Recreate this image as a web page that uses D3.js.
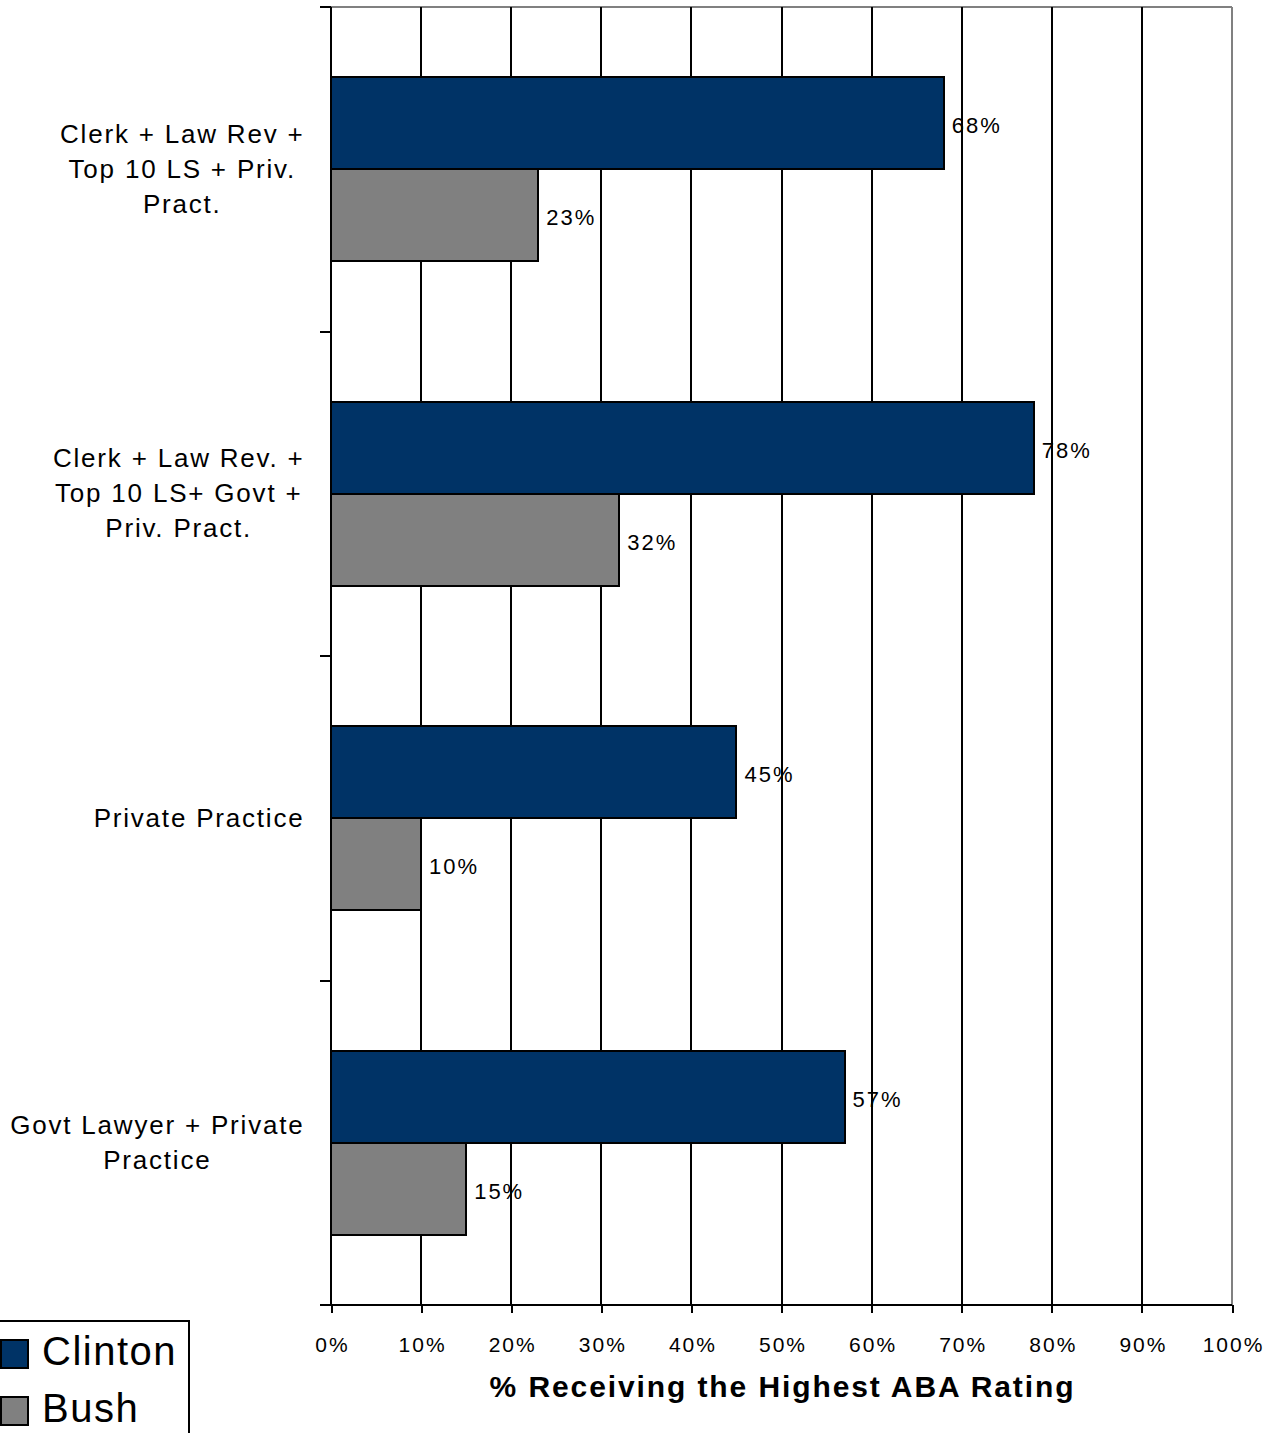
<!DOCTYPE html>
<html>
<head>
<meta charset="utf-8">
<script src="https://cdn.jsdelivr.net/npm/d3@7"></script>
<style>
  body { margin: 0; background: #fff; }
  svg { display: block; }
  text { font-family: "Liberation Sans", Arial, Helvetica, sans-serif; fill: #000; }
</style>
</head>
<body>
<svg id="chart" width="1278" height="1433"></svg>
<script>
// Career-profile groups (lines of each label split with "\n")
const categories = [
  "Clerk + Law Rev +\nTop 10 LS + Priv.\nPract.",
  "Clerk + Law Rev. +\nTop 10 LS+ Govt +\nPriv. Pract.",
  "Private Practice",
  "Govt Lawyer + Private\nPractice"
];
const seriesNames = ["Clinton", "Bush"];
const seriesColors = ["#003366", "#808080"];
const clintonValues = [68, 78, 45, 57];
const bushValues = [23, 32, 10, 15];
const xTickValues = [0, 10, 20, 30, 40, 50, 60, 70, 80, 90, 100];
const xAxisTitle = "% Receiving the Highest ABA Rating";

const seriesValues = [clintonValues, bushValues];
const rows = categories.map((c, i) => ({
  cat: i,
  label: c,
  values: seriesNames.map((s, k) => ({ series: s, color: seriesColors[k], value: seriesValues[k][i] }))
}));

const svg = d3.select("#chart");
svg.append("rect").attr("width", 1278).attr("height", 1433).attr("fill", "#fff");

const plotLeft = 331, plotRight = 1232, plotTop = 7, plotBottom = 1305;

const x = d3.scaleLinear().domain([0, 100]).range([plotLeft, plotRight]);
const y = d3.scaleBand().domain(d3.range(categories.length)).range([plotTop, plotBottom]);
const ySub = d3.scaleBand().domain(seriesNames).range([0, y.bandwidth()])
  .paddingInner(0).paddingOuter(0.764);

// plot frame: grey top and right border
svg.append("line").attr("x1", plotLeft).attr("x2", plotRight).attr("y1", plotTop).attr("y2", plotTop)
  .attr("stroke", "#808080").attr("stroke-width", 2).attr("shape-rendering", "crispEdges");
svg.append("line").attr("x1", plotRight).attr("x2", plotRight).attr("y1", plotTop).attr("y2", plotBottom)
  .attr("stroke", "#808080").attr("stroke-width", 2).attr("shape-rendering", "crispEdges");

// vertical gridlines
svg.append("g").selectAll("line")
  .data(xTickValues.filter(d => d > 0 && d < 100))
  .join("line")
  .attr("x1", d => Math.round(x(d))).attr("x2", d => Math.round(x(d)))
  .attr("y1", plotTop).attr("y2", plotBottom)
  .attr("stroke", "#000").attr("stroke-width", 2).attr("shape-rendering", "crispEdges");

// bars
const groups = svg.append("g").selectAll("g")
  .data(rows).join("g")
  .attr("transform", d => `translate(0,${y(d.cat)})`);

groups.selectAll("rect")
  .data(d => d.values).join("rect")
  .attr("x", x(0))
  .attr("y", d => ySub(d.series))
  .attr("width", d => x(d.value) - x(0))
  .attr("height", ySub.bandwidth())
  .attr("fill", d => d.color)
  .attr("stroke", "#000").attr("stroke-width", 2)
  .attr("shape-rendering", "crispEdges");

// value labels
groups.selectAll("text.val")
  .data(d => d.values).join("text")
  .attr("class", "val")
  .attr("x", d => x(d.value) + 8)
  .attr("y", d => ySub(d.series) + ySub.bandwidth() / 2 + 10)
  .attr("font-size", 22)
  .attr("letter-spacing", 2)
  .text(d => d.value + "%");

// left axis line and category boundary ticks
svg.append("line").attr("x1", plotLeft).attr("x2", plotLeft).attr("y1", plotTop).attr("y2", plotBottom)
  .attr("stroke", "#000").attr("stroke-width", 2).attr("shape-rendering", "crispEdges");
const boundaries = d3.range(categories.length + 1).map(i => plotTop + i * y.step());
svg.append("g").selectAll("line")
  .data(boundaries).join("line")
  .attr("x1", plotLeft - 11).attr("x2", plotLeft)
  .attr("y1", d => Math.round(d)).attr("y2", d => Math.round(d))
  .attr("stroke", "#000").attr("stroke-width", 2).attr("shape-rendering", "crispEdges");

// category labels: lines centred on each other, block right-aligned to the axis
const lineGap = 35;
const labelRight = 304.5;
svg.append("g").selectAll("text")
  .data(rows).join("text")
  .attr("text-anchor", "middle")
  .attr("font-size", 26)
  .attr("letter-spacing", 1.8)
  .each(function (d) {
    const lines = d.label.split("\n");
    const cy = y(d.cat) + y.bandwidth() / 2;
    const sel = d3.select(this);
    const spans = sel.selectAll("tspan")
      .data(lines).join("tspan")
      .attr("y", (l, i) => cy + 8.5 + (i - (lines.length - 1) / 2) * lineGap)
      .text(l => l);
    let maxW = 0;
    spans.each(function () { maxW = Math.max(maxW, this.getComputedTextLength()); });
    spans.attr("x", labelRight - maxW / 2);
  });

// bottom axis
const xAxis = d3.axisBottom(x)
  .tickValues(xTickValues)
  .tickSize(8)
  .tickSizeOuter(0)
  .tickFormat(d => d + "%");
const ax = svg.append("g").attr("transform", `translate(0,${plotBottom})`).call(xAxis);
ax.select(".domain").remove();
ax.selectAll(".tick line").attr("stroke", "#000").attr("stroke-width", 2).attr("shape-rendering", "crispEdges");
ax.selectAll(".tick text")
  .attr("y", 32).attr("dy", "0.71em")
  .attr("dx", 1)
  .attr("font-size", 21)
  .attr("letter-spacing", 2)
  .attr("font-family", "Liberation Sans, Arial, sans-serif")
  .attr("fill", "#000");
svg.append("line").attr("x1", plotLeft - 11).attr("x2", plotRight).attr("y1", plotBottom).attr("y2", plotBottom)
  .attr("stroke", "#000").attr("stroke-width", 2).attr("shape-rendering", "crispEdges");

// axis title
svg.append("text")
  .attr("x", (plotLeft + plotRight) / 2 + 1)
  .attr("y", 1397)
  .attr("text-anchor", "middle")
  .attr("font-size", 30)
  .attr("font-weight", "bold")
  .attr("letter-spacing", 1.9)
  .text(xAxisTitle);

// legend
const legend = svg.append("g");
legend.append("rect")
  .attr("x", -10).attr("y", 1321).attr("width", 199).attr("height", 140)
  .attr("fill", "#fff").attr("stroke", "#000").attr("stroke-width", 2)
  .attr("shape-rendering", "crispEdges");
const legendRows = [1340, 1397];
const li = legend.selectAll("g.item")
  .data(seriesNames.map((s, k) => ({ name: s, color: seriesColors[k], y: legendRows[k] })))
  .join("g").attr("class", "item");
li.append("rect")
  .attr("x", 1).attr("y", d => d.y).attr("width", 27).attr("height", 28)
  .attr("fill", d => d.color).attr("stroke", "#000").attr("stroke-width", 2)
  .attr("shape-rendering", "crispEdges");
li.append("text")
  .attr("x", 42).attr("y", d => d.y + 25)
  .attr("font-size", 40)
  .attr("letter-spacing", 1.5)
  .text(d => d.name);
</script>
</body>
</html>
